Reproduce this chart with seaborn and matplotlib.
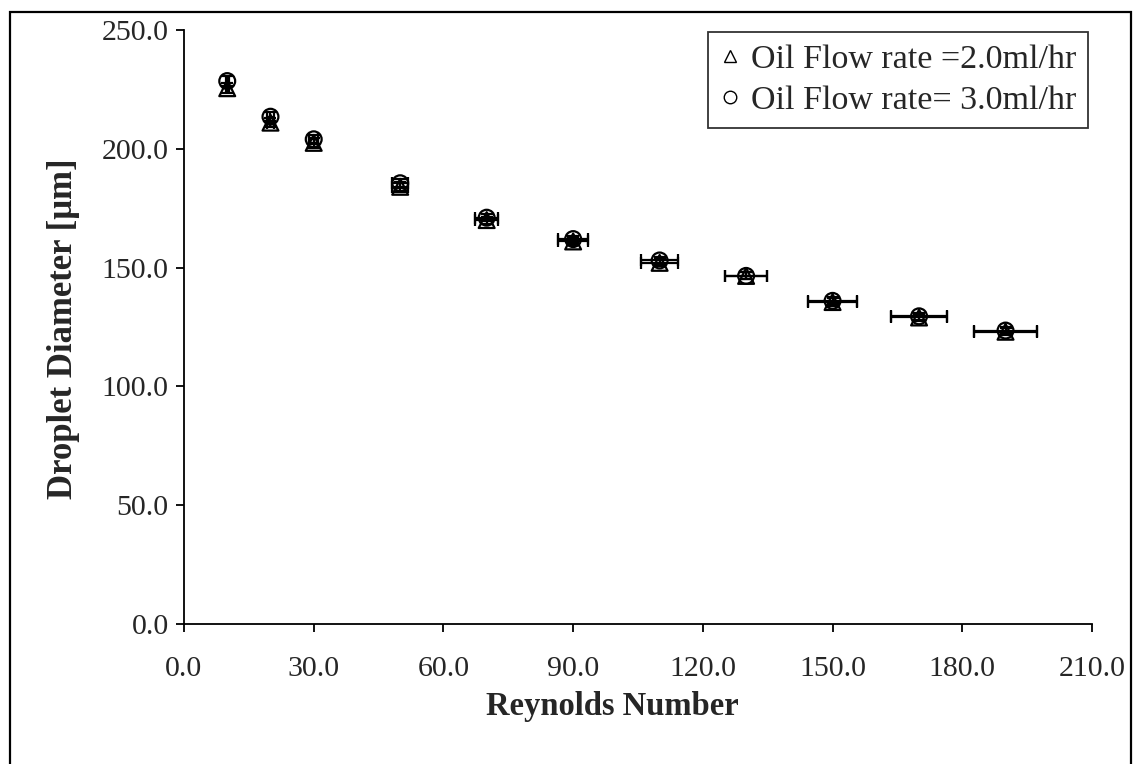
import matplotlib
matplotlib.use("Agg")
import matplotlib.pyplot as plt
import seaborn as sns
import pandas as pd
from matplotlib.lines import Line2D
from matplotlib.patches import Rectangle

# Droplet diameter vs Reynolds number for two oil flow rates
reynolds = [10, 20, 30, 50, 70, 90, 110, 130, 150, 170, 190]
reynolds_err = [0.4, 0.7, 1.1, 1.9, 2.7, 3.5, 4.2, 4.9, 5.7, 6.4, 7.3]
diam_2ml = [225.5, 211.0, 202.5, 184.0, 170.0, 161.0, 152.0, 146.5, 135.5, 129.0, 123.0]
diam_3ml = [228.5, 213.5, 204.0, 185.5, 171.0, 162.0, 153.0, 146.5, 136.0, 129.5, 123.5]
diam_err = [2.0, 2.0, 2.0, 2.0, 1.5, 1.5, 1.5, 1.5, 1.5, 1.5, 1.5]
labels = ["Oil Flow rate =2.0ml/hr", "Oil Flow rate= 3.0ml/hr"]
x_ticks = [0, 30, 60, 90, 120, 150, 180, 210]
y_ticks = [0, 50, 100, 150, 200, 250]

sns.set_theme(style="white")
plt.rcParams["font.family"] = ["Liberation Serif", "DejaVu Serif"]

df = pd.DataFrame({
    "Re": reynolds * 2,
    "D": diam_2ml + diam_3ml,
    "series": [labels[0]] * len(reynolds) + [labels[1]] * len(reynolds),
})

fig = plt.figure(figsize=(11.35, 7.64), dpi=100)
ax = fig.add_axes([184 / 1135, 1 - 624 / 764, 908 / 1135, 594 / 764])

# error bars first, markers on top
for d in (diam_2ml, diam_3ml):
    ax.errorbar(reynolds, d, xerr=reynolds_err, yerr=diam_err, fmt="none",
                ecolor="black", elinewidth=1.6, capsize=4, capthick=1.6, zorder=2)

sns.scatterplot(data=df, x="Re", y="D", style="series",
                markers={labels[0]: "^", labels[1]: "o"},
                facecolor="none", edgecolor="black", linewidth=1.6, s=130,
                legend=False, ax=ax, zorder=3)

ax.set_xlim(0, 210)
ax.set_ylim(0, 250)
ax.set_xticks(x_ticks)
ax.set_yticks(y_ticks)
ax.set_xticklabels([f"{v:.1f}" for v in x_ticks])
ax.set_yticklabels([f"{v:.1f}" for v in y_ticks])

for side in ("top", "right"):
    ax.spines[side].set_visible(False)
for side in ("left", "bottom"):
    ax.spines[side].set_color("black")
    ax.spines[side].set_linewidth(1.3)

ax.tick_params(axis="x", direction="out", length=6, width=1.3, color="black",
               pad=17, labelsize=21.5, bottom=True)
ax.tick_params(axis="y", direction="out", length=6, width=1.3, color="black",
               pad=5, labelsize=21.5, left=True)

ax.set_xlabel("Reynolds Number", fontsize=23.5, fontweight="bold")
ax.set_ylabel("Droplet Diameter [μm]", fontsize=25, fontweight="bold")
ax.xaxis.set_label_coords(0.472, -0.112)
ax.yaxis.set_label_coords(-0.114, 0.497)

handles = [
    Line2D([], [], linestyle="none", marker="^", markersize=9,
           markerfacecolor="white", markeredgecolor="black", markeredgewidth=1.0),
    Line2D([], [], linestyle="none", marker="o", markersize=9,
           markerfacecolor="white", markeredgecolor="black", markeredgewidth=1.0),
]
leg = ax.legend(handles, labels, loc="upper right", bbox_to_anchor=(0.9956, 0.9966),
                borderaxespad=0, fontsize=24.5, frameon=True, fancybox=False,
                handlelength=0.6, handletextpad=0.3, borderpad=0.35,
                labelspacing=0.3)
leg.get_frame().set_edgecolor("black")
leg.get_frame().set_linewidth(1.3)

# outer frame around the chart area
fig.patches.append(Rectangle((10 / 1135, -0.01), 1121 / 1135, 1.01 - 12 / 764,
                             transform=fig.transFigure, fill=False,
                             edgecolor="black", linewidth=1.6))

fig.savefig("out.png", dpi=100, facecolor="white")
